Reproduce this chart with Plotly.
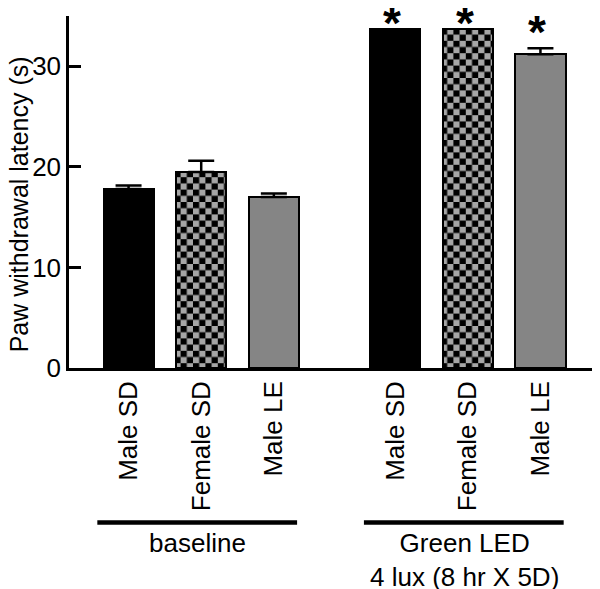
import plotly.graph_objects as go

# ---- data ----
strains = ["Male SD", "Female SD", "Male LE", "Male SD", "Female SD", "Male LE"]
groups = ["baseline", "Green LED<br>4 lux (8 hr X 5D)"]
group_of_bar = [0, 0, 0, 1, 1, 1]
latency = [17.8, 19.5, 17.0, 33.7, 33.7, 31.2]
sem = [0.35, 1.1, 0.35, 0.0, 0.0, 0.6]
significant = [False, False, False, True, True, True]
style_of_bar = ["solid", "checker", "gray", "solid", "checker", "gray"]
y_ticks = [0, 10, 20, 30]
y_title = "Paw withdrawal latency (s)"

# ---- layout helpers ----
group_gap = 0.67
xpos = [i + group_of_bar[i] * group_gap for i in range(len(strains))]
FONT = "Liberation Sans, Arial, sans-serif"

styles = {
    "solid": dict(color="black", pattern=None),
    "checker": dict(color="#a6a6a6",
                    pattern=dict(path="M0,0H6.2V6.2H0Z M6.2,6.2H12.4V12.4H6.2Z",
                                 size=12.4, fgcolor="black", bgcolor="#a6a6a6",
                                 fillmode="replace")),
    "gray": dict(color="#858585", pattern=None),
}

fig = go.Figure()
for i in range(len(strains)):
    st = styles[style_of_bar[i]]
    marker = dict(color=st["color"], line=dict(color="black", width=2))
    if st["pattern"] is not None:
        marker["pattern"] = st["pattern"]
    fig.add_trace(go.Bar(
        x=[xpos[i]], y=[latency[i]], width=0.69,
        marker=marker,
        error_y=dict(type="data", array=[sem[i]], arrayminus=[0], symmetric=False,
                     color="black", thickness=2.5, width=13,
                     visible=sem[i] > 0),
        showlegend=False, hoverinfo="skip",
    ))

# asterisks
for i in range(len(strains)):
    if significant[i]:
        fig.add_annotation(x=xpos[i], y=latency[i] + sem[i], xref="x", yref="y",
                           text="<b>*</b>", showarrow=False, yanchor="bottom",
                           xshift=-3,
                           yshift=-22 if sem[i] == 0 else -12,
                           font=dict(family=FONT, size=46, color="black"))

# group lines and labels
for g, name in enumerate(groups):
    members = [xpos[i] for i in range(len(strains)) if group_of_bar[i] == g]
    x0, x1 = min(members) - 0.43, max(members) + 0.32
    fig.add_shape(type="line", xref="x", yref="paper", x0=x0, x1=x1,
                  y0=-0.4386, y1=-0.4386, line=dict(color="black", width=4.5))
    fig.add_annotation(x=(min(members) + max(members)) / 2 - 0.05, xref="x",
                       y=-0.448, yref="paper", text=name, showarrow=False,
                       yanchor="top", align="center",
                       font=dict(family=FONT, size=26, color="black"))

# y-axis title as rotated annotation
fig.add_annotation(x=0, xref="paper", xanchor="center", xshift=-50,
                   y=0.465, yref="paper", yanchor="middle", textangle=-90,
                   text=y_title, showarrow=False,
                   font=dict(family=FONT, size=25, color="black"))

# page body has an 8px margin: figure is drawn 8px right/down of the window origin
fig.update_layout(
    width=592, height=581,
    margin=dict(l=61, r=0, t=8, b=221),
    plot_bgcolor="white", paper_bgcolor="white",
    bargap=0,
    font=dict(family=FONT, color="black"),
)
fig.update_xaxes(
    range=[-0.82, 6.49], tickvals=xpos, ticktext=strains, tickangle=-90,
    tickfont=dict(family=FONT, size=26, color="black"),
    showline=True, linecolor="black", linewidth=2.5, ticks="", showgrid=False,
    zeroline=False, ticklabelstandoff=0, automargin=False,
)
fig.update_yaxes(
    range=[0, 35], tickvals=y_ticks, ticks="inside", ticklen=12, tickwidth=2.5,
    tickcolor="black", showline=True, linecolor="black", linewidth=2.5,
    showgrid=False, zeroline=False, automargin=False,
    tickfont=dict(family=FONT, size=26, color="black"),
)

fig.write_html("out.html")
